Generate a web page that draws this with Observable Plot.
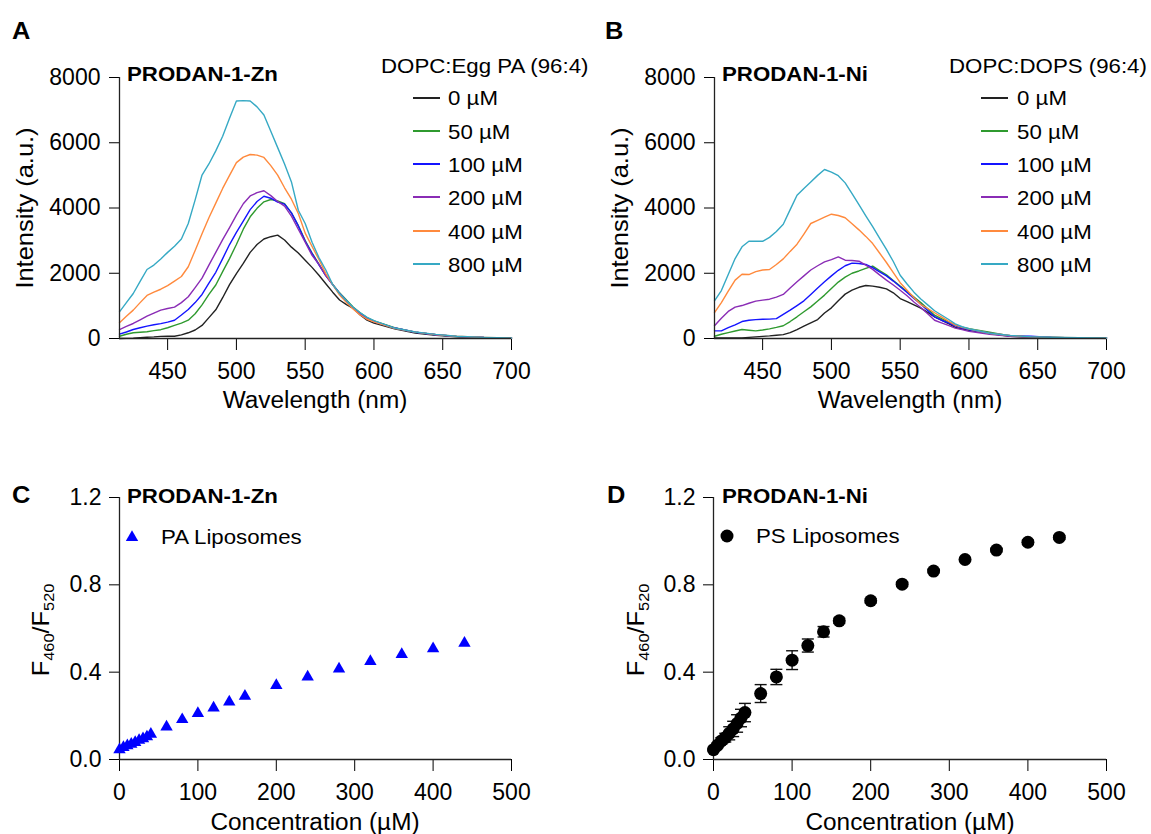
<!DOCTYPE html>
<html><head><meta charset="utf-8">
<script src="https://cdn.jsdelivr.net/npm/d3@7"></script>
<script src="https://cdn.jsdelivr.net/npm/@observablehq/plot@0.6"></script>
<style>
body{margin:0;background:#fff;}
#fig{position:relative;width:1151px;height:834px;overflow:hidden;font-family:"Liberation Sans",Arial,sans-serif;color:#000;background:#fff;}
#fig > svg{position:absolute;}
.t{position:absolute;line-height:1;white-space:nowrap;}
.t sub{font-size:0.64em;vertical-align:baseline;position:relative;top:0.34em;}
</style></head><body><div id="fig"></div>
<script>
// ---------- data ----------
const wavelength = [415,420,425,430,435,440,445,450,455,460,465,470,475,480,485,490,495,500,505,510,515,520,525,530,535,540,545,550,555,560,565,570,575,580,585,590,595,600,615,630,645,660,680,700];
const seriesLabels = ["0 µM","50 µM","100 µM","200 µM","400 µM","800 µM"];
const seriesColors = ["#222222","#2f9a2f","#1414ff","#8a2cb5","#ff8a3d","#36a9c4"];

// PRODAN-1-Zn, DOPC:Egg PA (96:4)
const zn0 = [0,5,10,25,40,50,65,70,70,110, 175,260,400,640,880,1250,1650,1990,2300,2640, 2880,3050,3120,3170,3020,2800,2620,2400,2180,1940, 1680,1420,1180,1040,920,720,560,470, 300,170,100,55,25,10];
const zn50 = [70,130,175,190,205,240,270,330,400,470, 560,760,1030,1350,1640,2050,2450,2880,3350,3730, 3990,4190,4260,4220,4130,3850,3460,3000,2620,2280, 1930,1660,1400,1180,960,790,640,540, 330,195,115,65,30,15];
const zn100 = [133,200,275,330,380,420,455,500,560,720, 890,1100,1350,1700,2030,2450,2880,3250,3600,3950, 4200,4360,4300,4180,4120,3850,3450,2980,2600,2260, 1930,1650,1380,1150,930,760,610,520, 320,190,115,65,30,15];
const zn200 = [275,370,460,570,685,780,870,920,960,1100, 1280,1560,1850,2250,2640,3030,3400,3780,4130,4370, 4470,4530,4380,4200,4060,3750,3350,2950,2550,2270, 1930,1650,1380,1150,930,760,610,520, 320,195,115,65,30,15];
const zn400 = [480,680,870,1100,1320,1420,1510,1620,1760,1900, 2200,2700,3210,3700,4150,4600,5000,5390,5560,5640, 5620,5550,5300,5010,4620,4270,3830,3230,2820,2420, 1990,1650,1330,1100,900,720,590,510, 310,195,120,70,35,15];
const zn800 = [818,1100,1380,1750,2115,2250,2440,2640,2830,3050, 3525,4250,5010,5350,5750,6200,6750,7280,7290,7280, 7100,6850,6350,5850,5350,4800,3930,3525,2950,2480, 2100,1650,1380,1160,950,790,650,550, 320,200,125,70,35,15];

// PRODAN-1-Ni, DOPC:DOPS (96:4)
const ni0 = [20,20,20,20,20,35,50,65,80,100, 120,180,275,380,480,580,780,940,1160,1360, 1480,1570,1625,1605,1570,1520,1400,1225,1130,1030, 930,800,665,560,460,340,290,250, 150,70,45,30,20,15];
const ni50 = [70,130,180,230,275,255,235,260,295,340, 390,520,665,820,970,1150,1330,1530,1730,1880, 2000,2070,2150,2220,2080,1950,1780,1605,1440,1270, 1100,910,715,610,510,420,350,300, 190,80,45,30,20,15];
const ni100 = [235,235,330,420,520,560,580,588,595,610, 740,870,1010,1155,1350,1550,1740,1920,2090,2230, 2310,2300,2270,2170,2040,1920,1760,1585,1410,1230, 1050,860,665,560,480,390,320,270, 160,85,70,35,20,15];
const ni200 = [390,620,830,960,1010,1080,1145,1175,1205,1270, 1350,1550,1740,1920,2100,2230,2350,2420,2500,2400, 2390,2370,2250,2120,1950,1790,1640,1480,1310,1120, 950,760,560,480,400,320,270,220, 130,65,40,30,20,15];
const ni400 = [790,1100,1450,1790,1970,1960,2050,2100,2115,2270, 2440,2670,2890,3200,3525,3620,3720,3810,3770,3700, 3520,3330,3130,2910,2620,2330,2020,1710,1480,1250, 1040,920,790,660,530,410,340,290, 160,90,50,35,25,15];
const ni800 = [1155,1470,1960,2450,2810,2980,2980,2980,3100,3280, 3500,3950,4390,4600,4800,5000,5180,5100,4990,4770, 4440,4100,3760,3430,3080,2730,2360,1940,1670,1420, 1210,1030,850,720,590,450,360,300, 160,90,55,40,25,15];

// Titration: F460/F520 vs concentration
const concentration = [0,5,10,15,20,25,30,35,40,60,80,100,120,140,160,200,240,280,320,360,400,440];
const paRatio = [0.045,0.055,0.063,0.070,0.078,0.088,0.095,0.104,0.116,0.149,0.183,0.211,0.236,0.264,0.290,0.339,0.378,0.415,0.449,0.481,0.508,0.533];
const psRatio = [0.045,0.065,0.085,0.100,0.120,0.140,0.165,0.190,0.215,0.302,0.378,0.455,0.522,0.585,0.635,0.727,0.803,0.863,0.916,0.959,0.995,1.017];
const psError = [0.005,0.010,0.015,0.020,0.030,0.035,0.040,0.040,0.042,0.041,0.035,0.043,0.030,0.024,0.012,0.010,0.010,0.008,0.008,0.008,0.010,0.008];

const wlTicks = [450,500,550,600,650,700];
const intensityTicks = [0,2000,4000,6000,8000];
const concTicks = [0,100,200,300,400,500];
const ratioTicks = [0,0.4,0.8,1.2];

// ---------- build ----------
const fig = document.getElementById("fig");
const FONT = '"Liberation Sans", Arial, sans-serif';
const baseStyle = {fontSize:"23px", fontFamily:FONT, color:"#000", background:"transparent", overflow:"visible"};
const SX = 1.06; // slightly wider lettering, as in the reference

function tidy(arrays){
  return arrays.flatMap((arr,k)=>arr.map((v,i)=>({wl:wavelength[i], I:v, s:seriesLabels[k]})));
}
function place(el, left, top){ el.style.left = left+"px"; el.style.top = top+"px"; fig.appendChild(el); }

function spectrum(data, left, width, marginRight){
  const p = Plot.plot({
    width, height:420, marginLeft:119, marginRight, marginTop:77, marginBottom:82,
    style: baseStyle,
    x: {domain:[415,700], ticks: wlTicks, tickSize:12, tickPadding:12, label:null, tickFormat:d3.format("d")},
    y: {domain:[0,8000], ticks: intensityTicks, tickSize:10, tickPadding:9, label:null, tickFormat:d3.format("d")},
    color: {domain: seriesLabels, range: seriesColors},
    marks: [
      Plot.line(data, {x:"wl", y:"I", z:"s", stroke:"s", strokeWidth:1.4}),
      Plot.ruleY([0], {stroke:"#222", strokeWidth:1.3}),
      Plot.ruleX([415], {stroke:"#222", strokeWidth:1.3})
    ]
  });
  place(p, left, 0);
}
spectrum(tidy([zn0,zn50,zn100,zn200,zn400,zn800]), 0, 575, 64);
spectrum(tidy([ni0,ni50,ni100,ni200,ni400,ni800]), 595, 556, 45);

const capSymbol = {draw(ctx, size){ const w = Math.sqrt(size/Math.PI); ctx.moveTo(-w,0); ctx.lineTo(w,0); }};

function titration(marks, left, width, marginRight, marginLeft){
  const p = Plot.plot({
    width, height:414, marginLeft, marginRight, marginTop:77, marginBottom:75,
    style: baseStyle,
    x: {domain:[0,500], ticks: concTicks, tickSize:12, tickPadding:12, label:null, tickFormat:d3.format("d")},
    y: {domain:[0,1.2], ticks: ratioTicks, tickSize:10, tickPadding:8, label:null, tickFormat:d3.format(".1f")},
    marks: [
      Plot.ruleY([0], {stroke:"#222", strokeWidth:1.3}),
      Plot.ruleX([0], {stroke:"#222", strokeWidth:1.3}),
      ...marks
    ]
  });
  place(p, left, 420);
}
const pa = concentration.map((c,i)=>({c, r:paRatio[i]}));
const ps = concentration.map((c,i)=>({c, r:psRatio[i], e:psError[i]}));
titration([
  Plot.dot(pa, {x:"c", y:"r", symbol:"triangle", fill:"#0000ff", r:4.6})
], 0, 575, 64, 119);
titration([
  Plot.ruleX(ps, {x:"c", y1:d=>d.r-d.e, y2:d=>d.r+d.e, stroke:"#111", strokeWidth:1.4}),
  Plot.dot(ps, {x:"c", y:d=>d.r+d.e, symbol:capSymbol, r:6, stroke:"#111", strokeWidth:1.4, fill:"none"}),
  Plot.dot(ps, {x:"c", y:d=>d.r-d.e, symbol:capSymbol, r:6, stroke:"#111", strokeWidth:1.4, fill:"none"}),
  Plot.dot(ps, {x:"c", y:"r", fill:"#000", r:6.5})
], 595, 556, 45, 118);

// ---------- text overlays ----------
function txt(html, x, base, size, opt={}){
  const d = document.createElement("div");
  d.className = "t";
  d.style.fontSize = size+"px";
  if (opt.bold) d.style.fontWeight = "bold";
  d.innerHTML = html;
  const top = base - 0.8465*size;
  if (opt.center) { d.style.transformOrigin = "50% 50%"; d.style.transform = `translateX(-50%) scaleX(${SX})`; }
  else { d.style.transformOrigin = "0 50%"; d.style.transform = `scaleX(${SX})`; }
  place(d, x, top);
  return d;
}
function vtxt(html, cx, cy, size){
  const d = document.createElement("div");
  d.className = "t";
  d.style.fontSize = size+"px";
  d.innerHTML = html;
  d.style.transform = `translate(-50%,-50%) rotate(-90deg) scaleX(${SX})`;
  place(d, cx, cy);
}
function hline(x1, x2, y, color){
  const d = document.createElement("div");
  d.style.position = "absolute";
  d.style.width = (x2-x1)+"px";
  d.style.height = "2px";
  d.style.background = color;
  place(d, x1, y-1);
}

// panel letters
txt("A", 12, 39, 24, {bold:true});
txt("B", 605, 39, 24, {bold:true});
txt("C", 12, 503, 24, {bold:true});
txt("D", 607, 503, 24, {bold:true});
// panel titles
txt("PRODAN-1-Zn", 127, 81, 21, {bold:true});
txt("PRODAN-1-Ni", 722, 81, 21, {bold:true});
txt("PRODAN-1-Zn", 127, 503, 21, {bold:true});
txt("PRODAN-1-Ni", 722, 503, 21, {bold:true});
// spectra legends
txt("DOPC:Egg PA (96:4)", 381, 73, 21);
txt("DOPC:DOPS (96:4)", 949, 73, 21);
seriesLabels.forEach((lab,k)=>{
  const base = 105 + 33.33*k;
  txt(lab, 448, base, 21);
  hline(413, 440, base-7.5, seriesColors[k]);
  txt(lab, 1016.5, base, 21);
  hline(981, 1008, base-7.5, seriesColors[k]);
});
// axis labels
txt("Wavelength (nm)", 315, 408, 23, {center:true});
txt("Wavelength (nm)", 910, 408, 23, {center:true});
vtxt("Intensity (a.u.)", 25, 208, 24);
vtxt("Intensity (a.u.)", 620, 208, 24);
txt("Concentration (µM)", 315, 830, 23, {center:true});
txt("Concentration (µM)", 910, 830, 23, {center:true});
vtxt("F<sub>460</sub>/F<sub>520</sub>", 41, 630, 24);
vtxt("F<sub>460</sub>/F<sub>520</sub>", 636, 630, 24);

// titration legends
function marker(kind, cx, cy){
  const s = d3.create("svg").attr("width",20).attr("height",20).style("position","absolute");
  if (kind === "triangle") s.append("path").attr("transform","translate(10,11.5)").attr("d", d3.symbol(d3.symbolTriangle, Math.PI*4.6*4.6)()).attr("fill","#0000ff");
  else s.append("circle").attr("cx",10).attr("cy",10).attr("r",6.5).attr("fill","#000");
  place(s.node(), cx-10, cy-10);
}
marker("triangle", 131.7, 536);
txt("PA Liposomes", 160.5, 543.3, 21);
marker("circle", 726.7, 536);
txt("PS Liposomes", 756, 543, 21);
</script></body></html>
